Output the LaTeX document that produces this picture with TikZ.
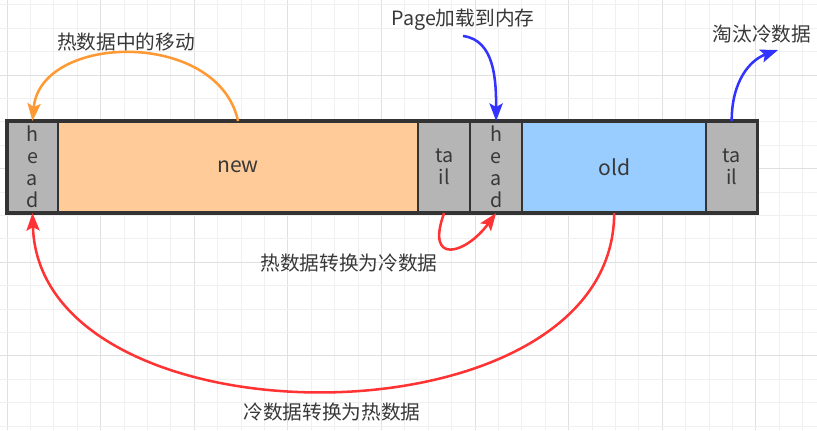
\documentclass[tikz,border=0pt]{standalone}
\usepackage{fontspec}
\setmainfont{Noto Sans CJK SC}
\usepackage{xcolor}
\usepackage{tikz}
\usetikzlibrary{arrows.meta,positioning}

\definecolor{cellgray}{HTML}{B5B5B5}
\definecolor{neworange}{HTML}{FFCC99}
\definecolor{oldblue}{HTML}{99CCFF}
\definecolor{edgedark}{HTML}{333333}
\definecolor{txtgray}{HTML}{383838}
\definecolor{hotorange}{HTML}{FF9933}
\definecolor{coldred}{HTML}{FF3333}
\definecolor{loadblue}{HTML}{3333FF}
\definecolor{gridminor}{HTML}{F0F0F0}
\definecolor{gridmajor}{HTML}{E0E0E0}

\tikzset{
  cell/.style={draw=edgedark,line width=1.4pt,minimum height=2.3cm,inner sep=0pt,outer sep=0pt,
    text=txtgray,align=center,font=\fontsize{14}{15.6}\selectfont},
  headcell/.style={cell,fill=cellgray},
  lbl/.style={text=txtgray,font=\fontsize{14}{16}\selectfont,inner sep=0pt},
  flow/.style={line width=1.8pt,-{Stealth[length=4.4mm,width=3.3mm,inset=0.9mm]}}
}

\begin{document}
\begin{tikzpicture}[x=0.025cm,y=-0.025cm]
\useasboundingbox (0,0) rectangle (817,430);
% grid
\foreach \k in {0,...,34}{
  \pgfmathtruncatemacro\m{mod(\k,4)}
  \ifnum\m=0 \def\gc{gridmajor}\else\def\gc{gridminor}\fi
  \draw[\gc,line width=0.6pt] ({7+23.4*\k},0) -- ({7+23.4*\k},430);
}
\foreach \k in {0,...,18}{
  \pgfmathtruncatemacro\m{mod(\k,4)}
  \ifnum\m=3 \def\gc{gridmajor}\else\def\gc{gridminor}\fi
  \draw[\gc,line width=0.6pt] (0,{4.8+23.4*\k}) -- (817,{4.8+23.4*\k});
}

% list
\node[headcell,minimum width=1.275cm,anchor=north west] (h1) at (7,121) {h\\e\\a\\d};
\node[cell,fill=neworange,minimum width=9cm,right=0pt of h1,font=\fontsize{15}{16}\selectfont] (new) {new};
\node[headcell,minimum width=1.3cm,right=0pt of new] (t1) {ta\\il};
\node[headcell,minimum width=1.3cm,right=0pt of t1] (h2) {h\\e\\a\\d};
\node[cell,fill=oldblue,minimum width=4.6cm,right=0pt of h2,font=\fontsize{15}{16}\selectfont] (old) {old};
\node[headcell,minimum width=1.275cm,right=0pt of old] (t2) {ta\\il};
\draw[edgedark,line width=2.2pt] (h1.north west) rectangle (t2.south east);

% labels
\node[lbl] (hotmove) at (126,42) {热数据中的移动};
\node[lbl] (pageload) at (463,20) {Page加载到内存};
\node[lbl] (evict) at (762,34) {淘汰冷数据};
\node[lbl] (hottocold) at (349,263) {热数据转换为冷数据};
\node[lbl] (coldtohot) at (332,412) {冷数据转换为热数据};
\coordinate (pagein) at (463,36);
\coordinate (evictout) at (778,50);

% arrows
\draw[flow,hotorange] (new.north) .. controls +(-20,-92) and +(8,-88) .. (h1.north);
\draw[flow,loadblue] (pagein) .. controls +(32,4) and +(0,-40) .. (h2.north);
\draw[flow,loadblue] (t2.north) .. controls +(0,-40) and +(-28,10) .. (evictout);
\draw[flow,coldred] (t1.south) .. controls +(-19,52) and +(-31,42) .. (h2.south);
\draw[flow,coldred] (old.south) .. controls +(0,237) and +(7,237) .. (h1.south);
\end{tikzpicture}
\end{document}
